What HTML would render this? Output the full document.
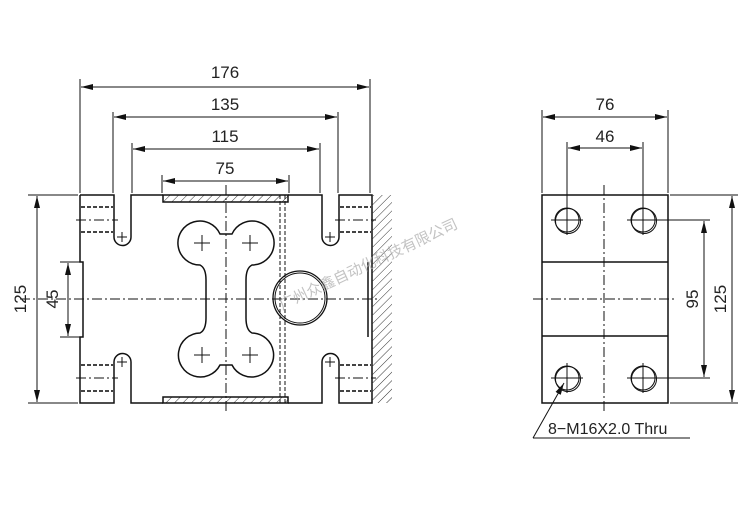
<!DOCTYPE html>
<html><head><meta charset="utf-8"><style>
html,body{margin:0;padding:0;background:#fff}
svg{display:block}
text{font-family:"Liberation Sans","DejaVu Sans",sans-serif;font-size:17px;fill:#222}
</style></head><body>
<svg width="750" height="518" viewBox="0 0 750 518" xmlns="http://www.w3.org/2000/svg">
<defs>
<marker id="a" viewBox="0 0 12 6" refX="12" refY="3" markerWidth="12" markerHeight="6" orient="auto-start-reverse" markerUnits="userSpaceOnUse"><path d="M0,0 L12,3 L0,6 Z" fill="#111"/></marker>
<pattern id="h" width="6" height="6" patternUnits="userSpaceOnUse" patternTransform="rotate(45)"><line x1="0" y1="0" x2="0" y2="6" stroke="#333" stroke-width="1"/></pattern>
</defs>
<g stroke="#111" fill="none" stroke-width="1">
<line x1="80" y1="79" x2="80" y2="193"/><line x1="370" y1="79" x2="370" y2="193"/>
<line x1="113" y1="112" x2="113" y2="193"/><line x1="338" y1="112" x2="338" y2="193"/>
<line x1="132" y1="143" x2="132" y2="193"/><line x1="320" y1="143" x2="320" y2="193"/>
<line x1="162" y1="175" x2="162" y2="193"/><line x1="289" y1="175" x2="289" y2="193"/>
<line x1="81" y1="87" x2="369" y2="87" marker-start="url(#a)" marker-end="url(#a)"/>
<line x1="114" y1="117" x2="337" y2="117" marker-start="url(#a)" marker-end="url(#a)"/>
<line x1="133" y1="149" x2="319" y2="149" marker-start="url(#a)" marker-end="url(#a)"/>
<line x1="163" y1="181" x2="288" y2="181" marker-start="url(#a)" marker-end="url(#a)"/>
<line x1="28" y1="195" x2="78" y2="195"/><line x1="28" y1="403" x2="78" y2="403"/>
<line x1="37" y1="196" x2="37" y2="402" marker-start="url(#a)" marker-end="url(#a)"/>
<line x1="60" y1="262" x2="80" y2="262"/><line x1="60" y1="337" x2="80" y2="337"/>
<line x1="68" y1="263" x2="68" y2="336" marker-start="url(#a)" marker-end="url(#a)"/>
<path stroke-width="1.5" d="M80,195 L114,195 L114,237 A8.5,8.5 0 0 0 131,237 L131,195 L163,195 M288,195 L322,195 L322,237 A8.5,8.5 0 0 0 339,237 L339,195 L372,195 L372,403 L339,403 L339,362 A8.5,8.5 0 0 0 322,362 L322,403 L288,403 M163,403 L131,403 L131,362 A8.5,8.5 0 0 0 114,362 L114,403 L80,403 L80,337 L83,337 L83,262 L80,262 L80,195"/>
<rect x="163" y="195" width="125" height="7" fill="url(#h)" stroke-width="1.5"/>
<rect x="163" y="397" width="125" height="6" fill="url(#h)" stroke-width="1.5"/>
<rect x="372" y="195" width="20" height="208" fill="url(#h)" stroke="none"/>
<line x1="368" y1="262" x2="368" y2="337" stroke-width="1.5"/>
<g stroke-dasharray="4,2" stroke-width="2" stroke="#444">
<line x1="81" y1="207" x2="113" y2="207"/><line x1="81" y1="232" x2="113" y2="232"/>
<line x1="81" y1="365" x2="113" y2="365"/><line x1="81" y1="391" x2="113" y2="391"/>
<line x1="340" y1="207" x2="371" y2="207"/><line x1="340" y1="232" x2="371" y2="232"/>
<line x1="340" y1="365" x2="371" y2="365"/><line x1="340" y1="391" x2="371" y2="391"/>
</g>
<g stroke-dasharray="10,3,2,3">
<line x1="76" y1="220" x2="118" y2="220"/><line x1="76" y1="378" x2="118" y2="378"/>
<line x1="335" y1="220" x2="376" y2="220"/><line x1="335" y1="378" x2="376" y2="378"/>
<line x1="20" y1="299" x2="378" y2="299"/>
<line x1="226" y1="185" x2="226" y2="412"/>
<line x1="533" y1="299" x2="676" y2="299"/>
<line x1="604" y1="185" x2="604" y2="412"/>
</g>
<g stroke-dasharray="4,2">
<line x1="280" y1="195" x2="280" y2="403"/><line x1="285" y1="195" x2="285" y2="403"/>
</g>
<path d="M117,237 h10 M122,232 v10 M117,362 h10 M122,357 v10 M325,237 h10 M330,232 v10 M325,362 h10 M330,357 v10"/>
<path d="M194,243 h16 M202,235 v16 M242,243 h16 M250,235 v16 M194,355 h16 M202,347 v16 M242,355 h16 M250,347 v16"/>
<path stroke-width="1.5" d="M220,234 A22,22 0 1 0 200,265 Q206,268 206,280 L206,318 Q206,330 200,333 A22,22 0 1 0 220,365 L232,365 A22,22 0 1 0 252,333 Q246,330 246,318 L246,280 Q246,268 252,265 A22,22 0 1 0 232,234 Z"/>
<circle cx="300" cy="298" r="27" stroke-width="1.3"/><circle cx="300" cy="298" r="25"/>
<rect x="542" y="195" width="126" height="208" stroke-width="1.5"/>
<line x1="542" y1="262" x2="668" y2="262" stroke-width="1.5"/><line x1="542" y1="336" x2="668" y2="336" stroke-width="1.5"/>
<g>
<circle cx="567" cy="220" r="12"/><circle cx="568" cy="221" r="12.5"/>
<circle cx="643" cy="220" r="12"/><circle cx="644" cy="221" r="12.5"/>
<circle cx="567" cy="378" r="12"/><circle cx="568" cy="379" r="12.5"/>
<circle cx="643" cy="378" r="12"/><circle cx="644" cy="379" r="12.5"/>
<path d="M551,220 h32 M567,205 v30 M627,220 h32 M643,205 v30 M551,378 h32 M567,363 v30 M627,378 h32 M643,363 v30"/>
</g>
<line x1="542" y1="110" x2="542" y2="193"/><line x1="668" y1="110" x2="668" y2="193"/>
<line x1="567" y1="142" x2="567" y2="206"/><line x1="643" y1="142" x2="643" y2="206"/>
<line x1="543" y1="117" x2="667" y2="117" marker-start="url(#a)" marker-end="url(#a)"/>
<line x1="568" y1="148" x2="642" y2="148" marker-start="url(#a)" marker-end="url(#a)"/>
<line x1="655" y1="220" x2="710" y2="220"/><line x1="655" y1="378" x2="710" y2="378"/>
<line x1="704" y1="221" x2="704" y2="377" marker-start="url(#a)" marker-end="url(#a)"/>
<line x1="670" y1="195" x2="738" y2="195"/><line x1="670" y1="403" x2="738" y2="403"/>
<line x1="732" y1="196" x2="732" y2="402" marker-start="url(#a)" marker-end="url(#a)"/>
<line x1="533" y1="438" x2="564" y2="383" marker-end="url(#a)"/>
<line x1="533" y1="438" x2="690" y2="438"/>
</g>
<text x="225" y="78" text-anchor="middle">176</text>
<text x="225" y="110" text-anchor="middle">135</text>
<text x="225" y="142" text-anchor="middle">115</text>
<text x="225" y="174" text-anchor="middle">75</text>
<text x="605" y="110" text-anchor="middle">76</text>
<text x="605" y="142" text-anchor="middle">46</text>
<text transform="translate(26,299) rotate(-90)" text-anchor="middle">125</text>
<text transform="translate(58,299) rotate(-90)" text-anchor="middle">45</text>
<text transform="translate(698,299) rotate(-90)" text-anchor="middle">95</text>
<text transform="translate(726,299) rotate(-90)" text-anchor="middle">125</text>
<text x="548" y="434" style="font-size:16px">8−M16X2.0 Thru</text>
<text transform="translate(282,310) rotate(-25)" style="font-family:'Liberation Sans','Noto Sans CJK SC',sans-serif;font-size:15px;fill:#aaa;fill-opacity:0.7">广州众鑫自动化科技有限公司</text>
</svg>
</body></html>
